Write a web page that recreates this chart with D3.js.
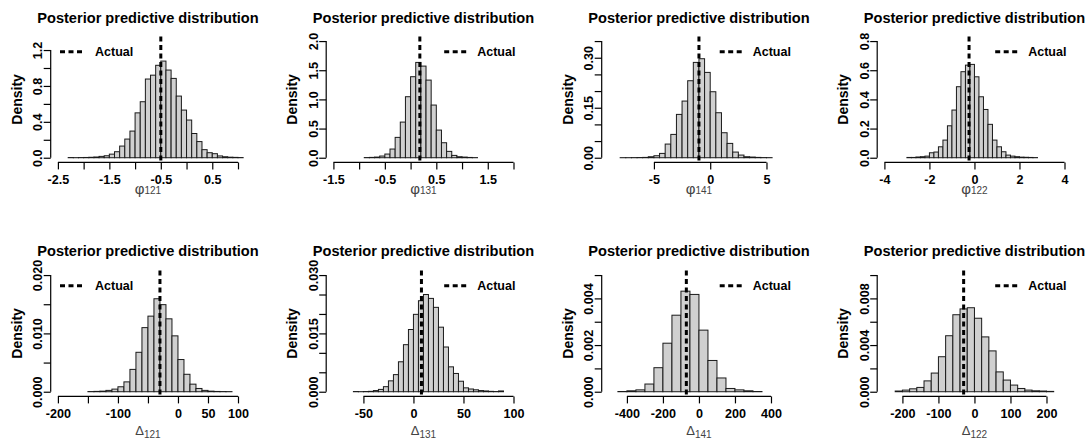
<!DOCTYPE html>
<html>
<head>
<meta charset="utf-8">
<script src="https://cdn.jsdelivr.net/npm/d3@7"></script>
<style>
  body { margin: 0; background: #fff; }
  text { font-family: "Liberation Sans", Arial, sans-serif; }
</style>
</head>
<body>
<svg id="chart" width="1091" height="438"></svg>
<script>
// ---- data (histogram densities, one array per panel) ----
const titles = ["Posterior predictive distribution", "Posterior predictive distribution",
  "Posterior predictive distribution", "Posterior predictive distribution",
  "Posterior predictive distribution", "Posterior predictive distribution",
  "Posterior predictive distribution", "Posterior predictive distribution"];
const labelSymbols = ["φ", "φ", "φ", "φ", "Δ", "Δ", "Δ", "Δ"];
const labelSubs = ["121", "131", "141", "122", "121", "131", "141", "122"];

const binStarts = [-2.3, -0.9, -8, -3.0, -150, -60, -450, -220];
const binWidths = [0.1, 0.1, 0.5, 0.2, 10, 5, 50, 20];

const phi121Density = [0.002, 0.001, 0.002, 0.003, 0.005, 0.008, 0.015, 0.022, 0.04, 0.067, 0.13, 0.208,
  0.297, 0.5, 0.624, 0.877, 0.92, 1.03, 1.077, 0.977, 0.884, 0.687, 0.531, 0.42, 0.27, 0.18, 0.09, 0.056,
  0.045, 0.02, 0.011, 0.006, 0.004, 0.002];
const phi131Density = [0.003, 0.006, 0.011, 0.029, 0.063, 0.149, 0.349, 0.611, 1.046, 1.389, 1.634, 1.571,
  1.331, 0.903, 0.474, 0.257, 0.109, 0.04, 0.017, 0.011, 0.005, 0.002];
const phi141Density = [0.0002, 0.0002, 0.0004, 0.0006, 0.001, 0.003, 0.006, 0.013, 0.041, 0.07, 0.13, 0.17,
  0.231, 0.286, 0.297, 0.256, 0.198, 0.135, 0.075, 0.043, 0.017, 0.008, 0.003, 0.002, 0.001, 0.0005, 0.0003];
const phi122Density = [0.002, 0.002, 0.005, 0.007, 0.011, 0.034, 0.039, 0.075, 0.121, 0.219, 0.327, 0.487,
  0.59, 0.635, 0.64, 0.555, 0.418, 0.331, 0.229, 0.121, 0.075, 0.041, 0.018, 0.011, 0.007, 0.004, 0.003,
  0.002, 0.001];
const delta121Density = [0.00003, 0.00006, 0.0001, 0.00023, 0.00045, 0.00085, 0.00169, 0.00383, 0.00676,
  0.01099, 0.01296, 0.01594, 0.01493, 0.0125, 0.00958, 0.00552, 0.00299, 0.0013, 0.00056, 0.00023, 0.0001,
  0.00005, 0.00003, 0.00002];
const delta131Density = [0.00005, 0.00002, 0.00005, 0.0001, 0.0003, 0.0006, 0.0013, 0.0028, 0.0044, 0.0077,
  0.0121, 0.016, 0.0199, 0.0234, 0.025, 0.024, 0.0217, 0.0166, 0.0115, 0.0064, 0.0047, 0.0027, 0.001, 0.0007,
  0.0005, 0.0003, 0.0002, 0.0001, 0.00005, 0.0002];
const delta141Density = [0.00001, 0.00004, 0.00008, 0.00033, 0.00103, 0.00208, 0.00328, 0.00431, 0.00417,
  0.00264, 0.00134, 0.00059, 0.00014, 0.00008, 0.00004, 0.00001];
const delta122Density = [0.00006, 0.00014, 0.00025, 0.00037, 0.00093, 0.0016, 0.003, 0.0048, 0.0066, 0.0071,
  0.0072, 0.0063, 0.0047, 0.0035, 0.0017, 0.001, 0.00057, 0.00028, 0.00014, 0.00008, 0.00006, 0.00003];
const densities = [phi121Density, phi131Density, phi141Density, phi122Density,
  delta121Density, delta131Density, delta141Density, delta122Density];

const actualValues = [-0.5, 0.18, -1.0, -0.24, -30, 8, -70, -30];
const legendSides = ["left", "right", "right", "right", "left", "right", "right", "right"];

const xLims = [[-2.5, 1.0], [-1.5, 2.0], [-9, 7], [-4, 4], [-200, 100], [-80, 100], [-500, 500], [-250, 250]];
const yLims = [1.3, 2.0, 0.35, 0.8, 0.02, 0.03, 0.005, 0.01];

const xTicks = [
  [-2.5, -2, -1.5, -1, -0.5, 0, 0.5, 1],
  [-1.5, -1, -0.5, 0, 0.5, 1, 1.5, 2],
  [-5, 0, 5],
  [-4, -2, 0, 2, 4],
  [-200, -150, -100, -50, 0, 50, 100],
  [-50, 0, 50, 100],
  [-400, -200, 0, 200, 400],
  [-200, -100, 0, 100, 200]
];
const xTickLabels = [
  ["-2.5", "", "-1.5", "", "-0.5", "", "0.5", ""],
  ["-1.5", "", "-0.5", "", "0.5", "", "1.5", ""],
  ["-5", "0", "5"],
  ["-4", "-2", "0", "2", "4"],
  ["-200", "", "-100", "", "0", "50", "100"],
  ["-50", "0", "50", "100"],
  ["-400", "-200", "0", "200", "400"],
  ["-200", "-100", "0", "100", "200"]
];
const yTicks = [
  [0, 0.2, 0.4, 0.6, 0.8, 1.0, 1.2],
  [0, 0.5, 1.0, 1.5, 2.0],
  [0, 0.05, 0.1, 0.15, 0.2, 0.25, 0.3, 0.35],
  [0, 0.2, 0.4, 0.6, 0.8],
  [0, 0.005, 0.01, 0.015, 0.02],
  [0, 0.005, 0.01, 0.015, 0.02, 0.025, 0.03],
  [0, 0.001, 0.002, 0.003, 0.004, 0.005],
  [0, 0.002, 0.004, 0.006, 0.008, 0.01]
];
const yTickLabels = [
  ["0.0", "", "0.4", "", "0.8", "", "1.2"],
  ["0.0", "0.5", "1.0", "1.5", "2.0"],
  ["0.00", "", "", "0.15", "", "", "0.30", ""],
  ["0.0", "0.2", "0.4", "0.6", "0.8"],
  ["0.000", "", "0.010", "", "0.020"],
  ["0.000", "", "", "0.015", "", "", "0.030"],
  ["0.000", "", "0.002", "", "0.004", ""],
  ["0.000", "", "0.004", "", "0.008", ""]
];

// ---- layout ----
const W = 194.5, H = 126;
const colStep = 275.5, rowStep = 234;
const xLabelBase = [193.8, 435.2];
const subShift = [0, 2.4];

const svg = d3.select("#chart");
svg.append("rect").attr("width", 1091).attr("height", 438).attr("fill", "#fff");

densities.forEach((dens, i) => {
  const col = i % 4, row = Math.floor(i / 4);
  const left = 50.7 + col * colStep;
  const top = 36.4 + row * rowStep;
  const g = svg.append("g");

  const [lo, hi] = xLims[i];
  const padX = 0.04 * (hi - lo);
  const x = d3.scaleLinear().domain([lo - padX, hi + padX]).range([left, left + W]);
  const yMax = yLims[i];
  const y = d3.scaleLinear().domain([-0.04 * yMax, 1.04 * yMax]).range([top + H, top]);

  const bins = dens.map((d, k) => ({
    x0: binStarts[i] + k * binWidths[i],
    x1: binStarts[i] + (k + 1) * binWidths[i],
    d: d
  }));

  g.selectAll("rect.bar")
    .data(bins)
    .enter()
    .append("rect")
    .attr("class", "bar")
    .attr("x", b => x(b.x0))
    .attr("width", b => x(b.x1) - x(b.x0))
    .attr("y", b => y(b.d))
    .attr("height", b => y(0) - y(b.d))
    .attr("fill", "#d0d0d0")
    .attr("stroke", "#1a1a1a")
    .attr("stroke-width", 1);

  // x axis (R style: line only between first and last tick)
  const xa = g.append("g")
    .attr("transform", `translate(0, ${top + H})`)
    .call(d3.axisBottom(x).tickValues(xTicks[i]).tickSize(7)
      .tickFormat((d, k) => xTickLabels[i][k]));
  xa.select(".domain").remove();
  xa.append("line")
    .attr("x1", x(xTicks[i][0]))
    .attr("x2", x(xTicks[i][xTicks[i].length - 1]))
    .attr("stroke", "#000")
    .attr("stroke-width", 1.2);
  xa.selectAll(".tick line").attr("stroke", "#000").attr("stroke-width", 1.2);
  xa.selectAll(".tick text")
    .attr("y", 22)
    .attr("dy", 0)
    .attr("fill", "#000")
    .attr("font-size", "12.6px")
    .attr("font-weight", "bold")
    .attr("font-family", "Liberation Sans, Arial, sans-serif");

  // y axis
  const ya = g.append("g")
    .attr("transform", `translate(${left}, 0)`)
    .call(d3.axisLeft(y).tickValues(yTicks[i]).tickSize(7)
      .tickFormat((d, k) => yTickLabels[i][k]));
  ya.select(".domain").remove();
  ya.append("line")
    .attr("y1", y(yTicks[i][0]))
    .attr("y2", y(yTicks[i][yTicks[i].length - 1]))
    .attr("stroke", "#000")
    .attr("stroke-width", 1.2);
  ya.selectAll(".tick line").attr("stroke", "#000").attr("stroke-width", 1.2);
  ya.selectAll(".tick text")
    .attr("transform", "rotate(-90)")
    .attr("x", 0)
    .attr("y", -8.5)
    .attr("dy", 0)
    .attr("text-anchor", "middle")
    .attr("fill", "#000")
    .attr("font-size", "12.6px")
    .attr("font-weight", "bold")
    .attr("font-family", "Liberation Sans, Arial, sans-serif");

  // actual value
  g.append("line")
    .attr("x1", x(actualValues[i]))
    .attr("x2", x(actualValues[i]))
    .attr("y1", top)
    .attr("y2", top + H)
    .attr("stroke", "#000")
    .attr("stroke-width", 3)
    .attr("stroke-dasharray", "5,3.5");

  // legend
  const ly = top + 15.3;
  let lx0, textX;
  if (legendSides[i] === "left") {
    lx0 = left + 9.3;
    textX = left + 44.3;
  } else {
    lx0 = left + W - 76.5;
    textX = left + W - 43.5;
  }
  g.append("line")
    .attr("x1", lx0)
    .attr("x2", lx0 + 25)
    .attr("y1", ly)
    .attr("y2", ly)
    .attr("stroke", "#000")
    .attr("stroke-width", 3)
    .attr("stroke-dasharray", "5,3.5");
  g.append("text")
    .attr("x", textX)
    .attr("y", ly + 4.5)
    .attr("font-size", "12.5px")
    .attr("font-weight", "bold")
    .text("Actual");

  // title
  g.append("text")
    .attr("x", left + W / 2)
    .attr("y", 22.7 + row * 233)
    .attr("text-anchor", "middle")
    .attr("font-size", "14.6px")
    .attr("font-weight", "bold")
    .text(titles[i]);

  // y label
  g.append("text")
    .attr("transform", `translate(${left - 29}, ${top + H / 2}) rotate(-90)`)
    .attr("text-anchor", "middle")
    .attr("font-size", "14px")
    .attr("font-weight", "bold")
    .text("Density");

  // x label with subscript
  const xl = g.append("text")
    .attr("x", left + W / 2)
    .attr("y", xLabelBase[row])
    .attr("text-anchor", "middle")
    .attr("fill", "#444");
  xl.append("tspan")
    .attr("font-size", row === 0 ? "15px" : "13px")
    .text(labelSymbols[i]);
  xl.append("tspan")
    .attr("font-size", "10px")
    .attr("dy", subShift[row])
    .text(labelSubs[i]);
});
</script>
</body>
</html>
